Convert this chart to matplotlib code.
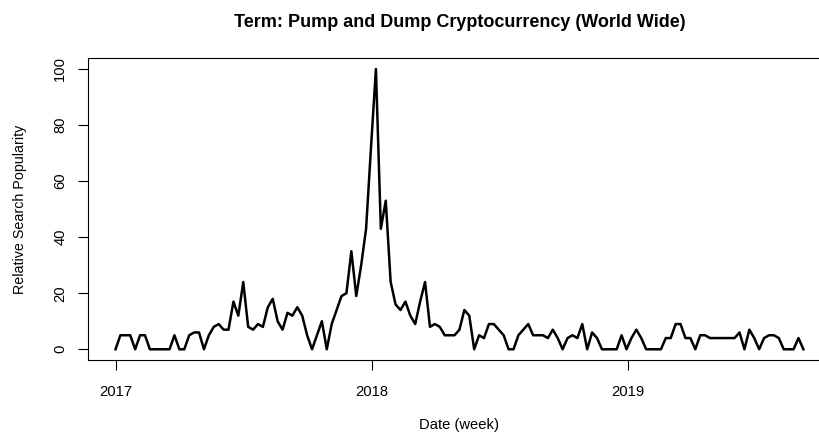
import matplotlib
matplotlib.use("Agg")
import matplotlib.pyplot as plt
import pandas as pd

plt.rcParams['font.family'] = ['Liberation Sans', 'DejaVu Sans']

# weekly google trends values, starting 2017-01-01
start_date = '2017-01-01'
popularity = [0, 5, 5, 5, 0, 5, 5, 0, 0, 0, 0, 0, 5, 0, 0, 5, 6, 6, 0,
              5, 8, 9, 7, 7, 17, 12, 24, 8, 7, 9, 8, 15, 18, 10,
              7, 13, 12, 15, 12, 5, 0, 5, 10, 0, 9, 14, 19, 20, 35, 19,
              30, 43, 72, 100, 43, 53, 24, 16, 14, 17,
              12, 9, 17, 24, 8, 9, 8, 5, 5, 5, 7, 14, 12,
              0, 5, 4, 9, 9, 7, 5, 0, 0, 5, 7, 9, 5, 5, 5, 4, 7, 4, 0, 4, 5, 4, 9, 0, 6, 4,
              0, 0, 0, 0, 5, 0,
              4, 7, 4, 0, 0, 0, 0,
              4, 4, 9, 9, 4, 4, 0, 5, 5, 4,
              4, 4, 4, 4, 4,
              6, 0, 7, 4, 0, 4, 5, 5, 4, 0, 0, 0, 4, 0]
year_ticks = ['2017-01-01', '2018-01-01', '2019-01-01']
year_labels = ['2017', '2018', '2019']
y_ticks = [0, 20, 40, 60, 80, 100]

weeks = pd.date_range(start_date, periods=len(popularity), freq='7D')

fig = plt.figure(figsize=(8.2, 4.4), dpi=100)
ax = fig.add_axes([0.1073, 0.1807, 0.906, 0.688])

ax.plot(weeks, popularity, color='black', linewidth=1.8)
ax.margins(x=0.04, y=0.04)

ax.set_xticks(pd.to_datetime(year_ticks))
ax.set_xticklabels(year_labels)
ax.set_yticks(y_ticks)
ax.set_yticklabels([str(v) for v in y_ticks], rotation=90, va='center')

ax.tick_params(axis='both', direction='out', length=7, width=0.8,
               labelsize=10.6, color='black')
ax.tick_params(axis='x', pad=11)
ax.tick_params(axis='y', pad=8)

for s in ax.spines.values():
    s.set_color('black')
    s.set_linewidth(0.8)

ax.set_title('Term: Pump and Dump Cryptocurrency (World Wide)',
             fontsize=13, fontweight='bold', pad=22.5, x=0.5)
ax.set_xlabel('Date (week)', fontsize=10.6)
ax.set_ylabel('Relative Search Popularity', fontsize=10.3)
ax.xaxis.set_label_coords(0.5, -0.19)
ax.yaxis.set_label_coords(-0.082, 0.5)

fig.savefig('out.png', dpi=100)
